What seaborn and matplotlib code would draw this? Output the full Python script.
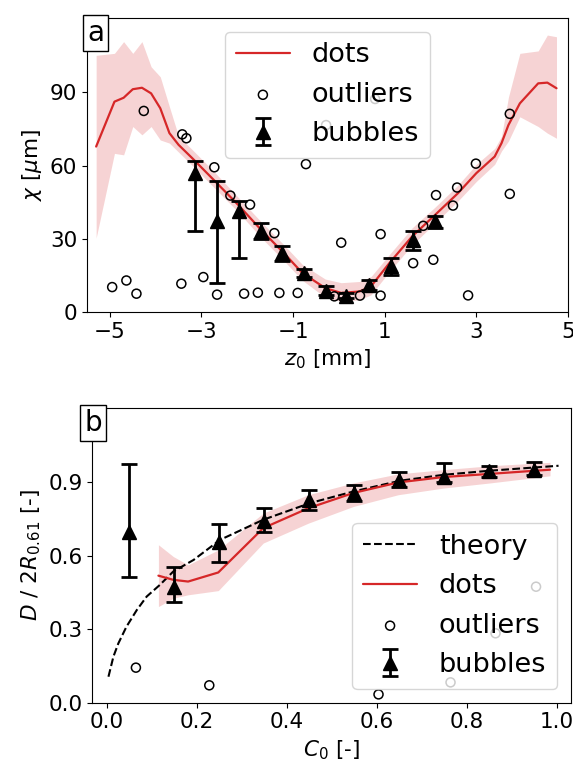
import matplotlib
matplotlib.use("Agg")
import matplotlib.pyplot as plt
import seaborn as sns
import numpy as np

# ---- panel a : chi vs z0 ----
z_dots = [-5.3, -4.9, -4.7, -4.5, -4.3, -4.1, -3.9, -3.7, -3.5, -3.2, -2.7, -2.2, -1.7, -1.2,
          -0.8, -0.3, 0.05, 0.45, 0.7, 1.1, 1.6, 2.1, 2.6, 3.0, 3.4, 3.55, 3.7, 3.95, 4.35, 4.55, 4.75]
chi_dots = [67.8, 86.2, 87.8, 91.3, 91.9, 89.6, 83.5, 73.3, 68.5, 63.0, 53.5, 43.9, 33.7, 24.1,
            16.0, 9.8, 7.8, 8.4, 10.5, 20.0, 31.0, 39.8, 48.7, 56.9, 63.7, 69.2, 76.6, 85.5, 93.7, 94.0, 91.7]
chi_lo = [30.3, 65.0, 64.4, 76.0, 72.6, 76.0, 70.5, 69.2, 65.5, 60.0, 50.5, 41.0, 30.5, 21.0,
          13.0, 6.0, 4.3, 5.0, 7.0, 16.5, 27.5, 36.5, 45.5, 53.5, 60.5, 66.0, 70.0, 80.0, 76.0, 73.3, 71.2]
chi_hi = [105.2, 106.0, 110.8, 106.0, 110.8, 100.5, 96.4, 84.1, 72.0, 66.5, 57.0, 47.0, 37.0, 27.5,
          19.5, 13.5, 12.0, 12.5, 14.5, 23.5, 34.5, 43.0, 52.0, 60.5, 67.0, 72.0, 88.0, 106.0, 107.0, 113.5, 112.8]

z_out = [-4.95, -4.64, -4.42, -4.26, -3.42, -3.33, -3.44, -2.96, -2.72, -2.66, -2.37, -2.07, -1.94,
         -1.77, -1.41, -1.30, -0.90, -0.72, -0.28, 0.79, -0.10, 0.05, 0.09, 0.46, 0.91, 0.91, 1.62,
         1.84, 2.06, 2.12, 2.49, 2.58, 2.82, 2.99, 3.73, 3.73]
chi_out = [10.2, 12.9, 7.5, 82.4, 72.8, 71.2, 11.6, 14.3, 59.3, 7.1, 47.7, 7.5, 44.0,
           7.9, 32.3, 7.8, 7.8, 60.6, 76.6, 87.3, 6.4, 28.4, 6.1, 6.7, 31.9, 6.7, 20.0,
           35.3, 21.4, 47.9, 43.6, 51.0, 6.8, 60.8, 81.2, 48.4]

z_bub = [-3.15, -2.66, -2.19, -1.71, -1.24, -0.77, -0.29, 0.16, 0.65, 1.14, 1.62, 2.09]
chi_bub = [56.9, 37.1, 41.5, 33.0, 24.1, 16.0, 8.7, 6.7, 11.2, 18.7, 29.3, 37.1]
chi_bub_lo = [33.0, 11.7, 22.3, 30.0, 21.0, 14.4, 6.8, 5.7, 9.1, 15.2, 25.3, 34.6]
chi_bub_hi = [62.0, 53.7, 45.3, 36.3, 26.9, 17.7, 10.5, 7.7, 12.9, 22.3, 33.3, 39.5]

# ---- panel b : D / 2R vs C0 ----
c_theory = [0.004, 0.015, 0.026, 0.044, 0.067, 0.089, 0.118, 0.148, 0.193, 0.252, 0.348,
            0.452, 0.548, 0.652, 0.748, 0.852, 1.004]
d_theory = [0.106, 0.188, 0.242, 0.31, 0.378, 0.433, 0.48, 0.535, 0.582, 0.664, 0.746,
            0.814, 0.861, 0.905, 0.929, 0.946, 0.966]

c_dots = [0.115, 0.148, 0.181, 0.248, 0.348, 0.448, 0.548, 0.648, 0.748, 0.852, 0.985]
d_dots = [0.518, 0.501, 0.494, 0.531, 0.712, 0.793, 0.855, 0.898, 0.920, 0.933, 0.950]
d_lo = [0.392, 0.426, 0.440, 0.457, 0.651, 0.732, 0.800, 0.848, 0.875, 0.896, 0.925]
d_hi = [0.644, 0.596, 0.562, 0.623, 0.773, 0.848, 0.896, 0.933, 0.950, 0.966, 0.980]

c_out = [0.065, 0.228, 0.604, 0.954, 0.864, 0.764]
d_out = [0.143, 0.071, 0.034, 0.473, 0.283, 0.083]

c_bub = [0.05, 0.15, 0.25, 0.35, 0.45, 0.55, 0.65, 0.75, 0.85, 0.95]
d_bub = [0.698, 0.473, 0.657, 0.739, 0.827, 0.855, 0.909, 0.922, 0.946, 0.950]
d_bub_lo = [0.512, 0.410, 0.573, 0.698, 0.787, 0.822, 0.880, 0.900, 0.922, 0.927]
d_bub_hi = [0.974, 0.555, 0.728, 0.793, 0.867, 0.889, 0.939, 0.977, 0.966, 0.980]

sns.set_style("ticks")
plt.rcParams["font.family"] = ["DejaVu Sans"]
plt.rcParams["mathtext.fontset"] = "dejavusans"
plt.rcParams["axes.edgecolor"] = "black"
plt.rcParams["xtick.color"] = "black"
plt.rcParams["ytick.color"] = "black"
plt.rcParams["text.color"] = "black"
plt.rcParams["axes.labelcolor"] = "black"

RED = "#d62728"
TICK_FS = 15.5
LEG_FS = 19.5

fig = plt.figure(figsize=(5.73, 7.65), dpi=100)
ax1 = fig.add_axes([0.1518, 0.5922, 0.8394, 0.3843])
ax2 = fig.add_axes([0.161, 0.0814, 0.835, 0.3848])


def draw_bubbles(ax, x, y, lo, hi):
    y = np.array(y)
    yerr = [y - np.array(lo), np.array(hi) - y]
    ax.errorbar(x, y, yerr=yerr, fmt="^", color="black", ms=10, lw=2,
                capsize=6, capthick=2, label="bubbles", zorder=5)


def panel_label(ax, txt, x, y):
    ax.text(x, y, txt, transform=ax.transAxes, fontsize=20, ha="center", va="center",
            bbox=dict(boxstyle="square,pad=0.15", fc="white", ec="black", lw=1), zorder=10)


# panel a
ax1.fill_between(z_dots, chi_lo, chi_hi, color=RED, alpha=0.2, lw=0)
sns.lineplot(x=z_dots, y=chi_dots, color=RED, lw=1.6, label="dots", ax=ax1)
sns.scatterplot(x=z_out, y=chi_out, s=42, facecolor="none", edgecolor="black",
                linewidth=1.1, label="outliers", ax=ax1, zorder=4)
draw_bubbles(ax1, z_bub, chi_bub, chi_bub_lo, chi_bub_hi)
ax1.set_xlim(-5.5, 5)
ax1.set_ylim(0, 120.5)
ax1.set_xticks([-5, -3, -1, 1, 3, 5])
ax1.set_yticks([0, 30, 60, 90])
ax1.set_xlabel("$z_0$ [mm]", fontsize=TICK_FS)
ax1.set_ylabel(r"$\chi$ [$\mu$m]", fontsize=TICK_FS)
ax1.tick_params(labelsize=TICK_FS)
ax1.legend(loc="upper center", fontsize=LEG_FS, borderaxespad=0.5)
panel_label(ax1, "a", 0.018, 0.949)

# panel b
ax2.fill_between(c_dots, d_lo, d_hi, color=RED, alpha=0.2, lw=0)
sns.lineplot(x=c_theory, y=d_theory, color="black", lw=1.5, linestyle="--", label="theory", ax=ax2)
sns.lineplot(x=c_dots, y=d_dots, color=RED, lw=1.6, label="dots", ax=ax2)
sns.scatterplot(x=c_out, y=d_out, s=42, facecolor="none", edgecolor="black",
                linewidth=1.1, label="outliers", ax=ax2, zorder=4)
draw_bubbles(ax2, c_bub, d_bub, d_bub_lo, d_bub_hi)
ax2.set_xlim(-0.032, 1.031)
ax2.set_ylim(0, 1.2)
ax2.set_xticks([0.0, 0.2, 0.4, 0.6, 0.8, 1.0])
ax2.set_yticks([0.0, 0.3, 0.6, 0.9])
ax2.set_xlabel("$C_0$ [-]", fontsize=TICK_FS)
ax2.set_ylabel("$D$ / $2R_{0.61}$ [-]", fontsize=TICK_FS)
ax2.tick_params(labelsize=TICK_FS)
ax2.legend(loc="lower right", fontsize=LEG_FS, borderaxespad=0.5)
panel_label(ax2, "b", 0.002, 0.950)

fig.savefig("out.png", dpi=100)
